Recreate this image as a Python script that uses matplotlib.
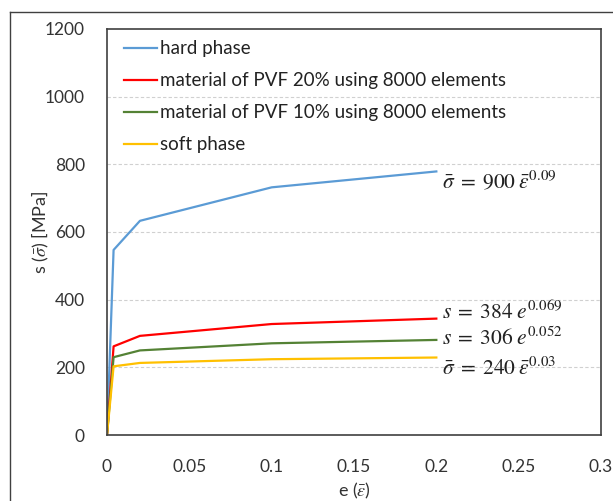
import matplotlib
matplotlib.use("Agg")
import matplotlib.pyplot as plt
from matplotlib.lines import Line2D

plt.rcParams['font.family'] = ['Lato', 'DejaVu Sans']
plt.rcParams['mathtext.fontset'] = 'stix'

# data
strain = [0.0, 0.004, 0.02, 0.1, 0.2]
hard_phase = [0, 547, 633, 732, 779]
pvf20 = [0, 262, 293, 328, 344]
pvf10 = [0, 230, 250, 271, 281]
soft_phase = [0, 203, 213, 224, 229]

series_labels = ["hard phase", "material of PVF 20% using 8000 elements",
                 "material of PVF 10% using 8000 elements", "soft phase"]
series_colors = ["#5B9BD5", "#FF0000", "#548235", "#FFC000"]

annotations = [r"$\bar{\sigma}\;=\;900\;\bar{\varepsilon}^{0.09}$",
               r"$s\;=\;384\;e^{0.069}$",
               r"$s\;=\;306\;e^{0.052}$",
               r"$\bar{\sigma}\;=\;240\;\bar{\varepsilon}^{0.03}$"]
annot_y = [752, 364, 288, 198]

x_ticks = [0, 0.05, 0.1, 0.15, 0.2, 0.25, 0.3]
x_ticklabels = ["0", "0.05", "0.1", "0.15", "0.2", "0.25", "0.3"]
y_ticks = [0, 200, 400, 600, 800, 1000, 1200]

fig = plt.figure(figsize=(6.13, 5.01), dpi=100)
ax = fig.add_axes([107/613, 1 - 435/501, 494/613, 406/501])

for ys, lab, col in zip([hard_phase, pvf20, pvf10, soft_phase], series_labels, series_colors):
    ax.plot(strain, ys, color=col, lw=1.6, label=lab, solid_joinstyle='round')

for txt, yv in zip(annotations, annot_y):
    ax.text(0.2035, yv, txt, fontsize=15.5, va='center', ha='left', color='#222222')

ax.set_xlim(0, 0.3)
ax.set_ylim(0, 1200)
ax.set_xticks(x_ticks)
ax.set_xticklabels(x_ticklabels)
ax.set_yticks(y_ticks)
ax.tick_params(axis='both', length=0, labelsize=12.5, colors='#333333')
ax.tick_params(axis='y', pad=16)
ax.tick_params(axis='x', pad=17)

for y in y_ticks[1:-1]:
    ax.axhline(y, color='#D0D0D0', lw=0.8, ls=(0, (3, 2)), zorder=0)

for sp in ax.spines.values():
    sp.set_color('#404040')
    sp.set_linewidth(1.2)

ax.set_xlabel(r"e ($\bar{\varepsilon}$)", fontsize=13, color='#333333')
ax.set_ylabel(r"s ($\bar{\sigma}$) [MPa]", fontsize=13, color='#333333')
ax.xaxis.set_label_coords(0.5, -0.112)
ax.yaxis.set_label_coords(-0.113, 0.5)

leg = ax.legend(loc='upper left', bbox_to_anchor=(0.034, 0.972), frameon=False,
                fontsize=13.5, handlelength=1.75, handletextpad=0.2,
                labelspacing=0.8, borderaxespad=0, borderpad=0)
for t in leg.get_texts():
    t.set_color('#222222')

# outer chart border (left and top visible)
fig.add_artist(Line2D([10/613, 10/613], [0, 1 - 12/501], transform=fig.transFigure,
                      color='#404040', lw=1.0))
fig.add_artist(Line2D([10/613, 1], [1 - 12/501, 1 - 12/501], transform=fig.transFigure,
                      color='#404040', lw=1.0))

fig.savefig("out.png", dpi=100)
